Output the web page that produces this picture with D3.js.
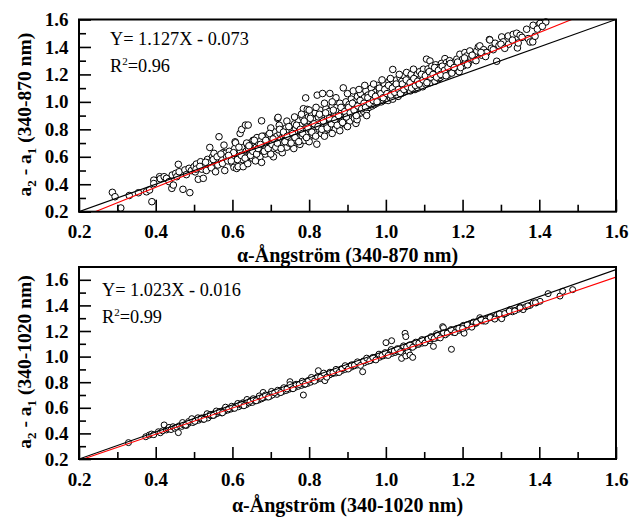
<!DOCTYPE html>
<html><head><meta charset="utf-8">
<script src="https://cdn.jsdelivr.net/npm/d3@7"></script>
<style>body{margin:0;background:#fff}svg{display:block}</style>
</head><body>
<svg id="c" width="631" height="517"></svg>
<script>
// ---------------- data ----------------
const xMajorTicks = [0.2,0.4,0.6,0.8,1.0,1.2,1.4,1.6];
const xMinorTicks = [0.3,0.5,0.7,0.9,1.1,1.3,1.5];
const yMajorTicks = [0.2,0.4,0.6,0.8,1.0,1.2,1.4,1.6];
const yMinorTicks = [0.3,0.5,0.7,0.9,1.1,1.3,1.5];

const topFit = {slope:1.127, intercept:-0.073};
const bottomFit = {slope:1.023, intercept:-0.016};
const topEquation = "Y= 1.127X - 0.073";
const topR2 = "0.96";
const bottomEquation = "Y= 1.023X - 0.016";
const bottomR2 = "0.99";
const refLineTop = [[0.2,0.2],[1.6,1.6]];
const refLineBottom = [[0.2,0.2],[1.6,1.68]];
const topYDomain = [0.2,1.6];
const bottomYDomain = [0.2,1.7];
const topXTitle = "α-Ångström (340-870 nm)";
const bottomXTitle = "α-Ångström (340-1020 nm)";
const topYRange = "(340-870 nm)";
const bottomYRange = "(340-1020 nm)";

const topPoints = [
[0.287,0.341],[0.294,0.309],[0.309,0.227],[0.331,0.318],[0.355,0.338],[0.376,0.345],[0.384,0.358],[0.39,0.273],[0.395,0.43],[0.395,0.405],
[0.41,0.455],[0.412,0.44],[0.422,0.455],[0.428,0.443],[0.435,0.419],[0.442,0.37],[0.446,0.394],[0.443,0.467],[0.452,0.479],[0.455,0.455],
[0.459,0.545],[0.461,0.491],[0.471,0.363],[0.489,0.339],[0.476,0.504],[0.48,0.47],[0.487,0.516],[0.493,0.5],[0.5,0.528],[0.503,0.49],
[0.506,0.547],[0.511,0.436],[0.517,0.564],[0.52,0.51],[0.524,0.443],[0.528,0.54],[0.532,0.5],[0.535,0.581],[0.538,0.555],[0.541,0.668],
[0.545,0.52],[0.548,0.6],[0.552,0.625],[0.556,0.491],[0.558,0.57],[0.562,0.54],[0.565,0.746],[0.568,0.6],[0.571,0.585],[0.574,0.552],
[0.576,0.63],[0.578,0.685],[0.58,0.5],[0.582,0.625],[0.585,0.6],[0.588,0.57],[0.592,0.64],[0.595,0.61],[0.598,0.59],[0.601,0.55],
[0.604,0.523],[0.606,0.66],[0.607,0.709],[0.608,0.702],[0.611,0.515],[0.612,0.62],[0.615,0.528],[0.618,0.6],[0.62,0.77],[0.621,0.64],
[0.624,0.799],[0.626,0.58],[0.628,0.528],[0.63,0.67],[0.632,0.62],[0.634,0.831],[0.636,0.64],[0.638,0.6],[0.639,0.685],[0.641,0.831],
[0.642,0.66],[0.644,0.62],[0.646,0.7],[0.648,0.63],[0.65,0.68],[0.652,0.59],[0.654,0.72],[0.656,0.65],[0.658,0.61],[0.66,0.69],
[0.662,0.67],[0.664,0.74],[0.666,0.63],[0.668,0.7],[0.67,0.66],[0.672,0.6],[0.674,0.72],[0.676,0.862],[0.676,0.559],[0.678,0.68],
[0.68,0.65],[0.682,0.75],[0.684,0.7],[0.686,0.62],[0.688,0.67],[0.69,0.73],[0.692,0.69],[0.694,0.76],[0.696,0.64],[0.698,0.71],
[0.7,0.68],[0.702,0.74],[0.704,0.7],[0.707,0.6],[0.708,0.66],[0.71,0.78],[0.712,0.72],[0.714,0.69],[0.716,0.75],[0.718,0.879],
[0.719,0.887],[0.72,0.65],[0.722,0.71],[0.724,0.77],[0.726,0.73],[0.728,0.68],[0.73,0.8],[0.732,0.75],[0.734,0.7],[0.736,0.76],
[0.738,0.72],[0.74,0.81],[0.742,0.67],[0.744,0.78],[0.746,0.74],[0.748,0.7],[0.75,0.82],[0.752,0.76],[0.754,0.73],[0.756,0.79],
[0.758,0.68],[0.76,0.75],[0.762,0.84],[0.764,0.8],[0.766,0.72],[0.768,0.77],[0.77,0.74],[0.772,0.86],[0.774,0.81],[0.776,0.69],
[0.778,0.78],[0.78,0.83],[0.782,0.75],[0.784,0.88],[0.785,0.95],[0.786,0.8],[0.788,0.72],[0.79,0.85],[0.791,1.029],[0.792,0.77],
[0.795,0.945],[0.795,0.82],[0.798,0.89],[0.8,0.74],[0.802,0.86],[0.804,0.79],[0.806,0.9],[0.808,0.83],[0.81,0.76],[0.812,0.87],
[0.814,0.81],[0.816,0.92],[0.818,0.78],[0.82,0.692],[0.821,1.049],[0.822,0.85],[0.824,0.89],[0.826,0.8],[0.828,0.94],[0.83,0.84],
[0.832,0.77],[0.834,0.88],[0.835,1.061],[0.836,0.82],[0.838,0.91],[0.84,0.86],[0.842,0.79],[0.844,0.95],[0.846,0.83],[0.848,0.89],
[0.85,0.8],[0.852,0.93],[0.854,1.061],[0.855,0.86],[0.857,0.82],[0.86,0.97],[0.862,0.88],[0.864,0.84],[0.866,0.92],[0.868,0.8],
[0.87,0.9],[0.872,0.96],[0.874,0.85],[0.876,0.93],[0.878,0.82],[0.88,0.99],[0.882,0.88],[0.884,0.92],[0.886,0.86],[0.889,1.102],
[0.89,0.95],[0.892,0.84],[0.894,0.9],[0.896,1.0],[0.898,0.87],[0.9,0.94],[0.902,0.91],[0.904,0.98],[0.906,0.86],[0.908,0.95],
[0.91,1.02],[0.912,0.9],[0.914,0.93],[0.916,0.97],[0.918,0.88],[0.92,1.0],[0.922,0.843],[0.924,0.94],[0.926,1.04],[0.928,0.91],
[0.93,0.98],[0.932,0.95],[0.934,1.06],[0.936,0.92],[0.938,1.01],[0.94,0.96],[0.942,0.93],[0.944,1.03],[0.946,0.98],[0.948,1.08],
[0.95,0.94],[0.952,1.0],[0.954,1.05],[0.956,0.96],[0.958,1.02],[0.96,0.99],[0.962,1.1],[0.964,0.97],[0.966,1.04],[0.968,1.0],
[0.97,0.98],[0.972,1.07],[0.974,1.02],[0.976,0.99],[0.978,1.12],[0.98,1.05],[0.982,1.0],[0.984,1.08],[0.986,1.03],[0.988,1.0],
[0.99,1.1],[0.992,1.05],[0.994,1.01],[0.996,1.13],[0.998,1.07],[1.0,1.02],[1.002,1.1],[1.004,1.04],[1.006,1.01],[1.008,1.15],
[1.01,1.08],[1.012,1.03],[1.014,1.12],[1.016,1.06],[1.018,1.236],[1.018,1.02],[1.02,1.14],[1.022,1.09],[1.024,1.117],[1.026,1.05],
[1.028,1.16],[1.03,1.11],[1.032,1.04],[1.034,1.13],[1.036,1.08],[1.037,1.177],[1.04,1.06],[1.042,1.15],[1.044,1.1],[1.046,1.07],
[1.048,1.19],[1.05,1.12],[1.052,1.08],[1.054,1.214],[1.056,1.14],[1.058,1.09],[1.06,1.17],[1.062,1.11],[1.064,1.08],[1.066,1.2],
[1.068,1.15],[1.07,1.1],[1.072,1.238],[1.074,1.13],[1.076,1.09],[1.078,1.18],[1.08,1.14],[1.082,1.2],[1.084,1.1],[1.086,1.16],
[1.088,1.22],[1.09,1.12],[1.092,1.18],[1.094,1.14],[1.096,1.11],[1.098,1.238],[1.1,1.2],[1.102,1.15],[1.104,1.13],[1.106,1.311],
[1.108,1.19],[1.11,1.24],[1.112,1.16],[1.115,1.298],[1.116,1.14],[1.118,1.21],[1.12,1.26],[1.122,1.17],[1.125,1.23],[1.128,1.15],
[1.13,1.27],[1.133,1.2],[1.136,1.25],[1.138,1.17],[1.141,1.177],[1.142,1.22],[1.145,1.28],[1.148,1.19],[1.15,1.24],[1.154,1.315],
[1.155,1.21],[1.158,1.286],[1.16,1.26],[1.163,1.2],[1.166,1.3],[1.17,1.23],[1.173,1.27],[1.176,1.226],[1.18,1.29],[1.183,1.24],
[1.185,1.311],[1.188,1.26],[1.191,1.22],[1.193,1.347],[1.196,1.28],[1.2,1.31],[1.202,1.262],[1.206,1.359],[1.208,1.3],[1.211,1.335],
[1.215,1.28],[1.219,1.371],[1.222,1.32],[1.228,1.311],[1.232,1.35],[1.237,1.371],[1.241,1.4],[1.245,1.408],[1.25,1.34],[1.255,1.38],
[1.259,1.356],[1.263,1.359],[1.27,1.454],[1.271,1.451],[1.275,1.39],[1.285,1.427],[1.289,1.296],[1.295,1.41],[1.302,1.473],
[1.306,1.437],[1.319,1.48],[1.32,1.42],[1.332,1.492],[1.341,1.5],[1.343,1.393],[1.345,1.429],[1.35,1.485],[1.367,1.529],[1.371,1.461],
[1.376,1.436],[1.383,1.437],[1.384,1.558],[1.389,1.478],[1.4,1.565],[1.402,1.572],[1.417,1.582],
[0.87,1.03],[0.9,1.06],[0.915,1.08],[0.93,1.09],[0.945,1.12],[0.968,1.13],[0.99,1.16],[1.012,1.17],[1.035,1.2],[0.86,1.0],
[0.84,0.99],[0.818,0.96],[0.8,0.94],[0.78,0.91],[0.762,0.89],[0.742,0.86],[0.722,0.83],[0.7,0.81],[0.88,0.79],[0.9,0.82],
[0.925,0.87],[0.95,0.9],[0.86,0.77],[0.84,0.75],[0.8,0.71],[0.76,0.66],[0.73,0.63],[0.7,0.62],[0.66,0.57],[0.64,0.55],
[0.603,0.63],[0.613,0.58],[0.617,0.67],[0.623,0.61],[0.633,0.59],[0.637,0.7],[0.643,0.68],[0.647,0.61],[0.653,0.64],[0.657,0.72],
[0.663,0.62],[0.667,0.66],[0.673,0.69],[0.677,0.75],[0.683,0.64],[0.687,0.72],[0.693,0.66],[0.697,0.77],[0.703,0.69],[0.706,0.73],
[0.713,0.67],[0.717,0.7],[0.723,0.8],[0.727,0.66],[0.733,0.78],[0.737,0.71],[0.743,0.75],[0.747,0.82],[0.753,0.7],[0.757,0.77],
[0.763,0.74],[0.767,0.83],[0.773,0.71],[0.777,0.8],[0.783,0.77],[0.787,0.86],[0.793,0.74],[0.797,0.81],[0.803,0.88],[0.807,0.78],
[0.813,0.84],[0.817,0.75],[0.823,0.82],[0.827,0.91],[0.833,0.8],[0.837,0.86],[0.843,0.92],[0.847,0.81],[0.853,0.88],[0.858,0.84],
[0.863,0.94],[0.867,0.87],[0.873,0.83],[0.877,0.9],[0.883,0.96],[0.887,0.85],[0.893,0.93],[0.897,0.89],[0.903,0.96],[0.907,0.92],
[0.913,0.99],[0.917,0.94],[0.923,0.9],[0.927,0.97],[0.933,1.01],[0.937,0.95],[0.943,0.99],[0.947,0.96],[0.953,1.03],[0.957,0.99],
[0.963,1.06],[0.967,1.01],[0.973,1.04],[0.977,1.0],[0.983,1.1],[0.987,1.06],[0.993,1.03],[0.997,1.09],[1.003,1.06],[1.007,1.12],
[1.013,1.05],[1.017,1.1],[1.023,1.07],[1.027,1.13],[1.033,1.09],[1.038,1.06],[1.043,1.13],[1.047,1.09],[1.053,1.16],[1.057,1.11],
[1.063,1.14],[1.067,1.1],[1.073,1.17],[1.077,1.12],[1.083,1.15],[1.087,1.13],[1.093,1.2],[1.097,1.16],[1.103,1.19],[1.107,1.14],
[1.113,1.22],[1.117,1.18],[1.123,1.2],[1.127,1.25],[1.132,1.18],[1.137,1.23],[1.143,1.2],[1.147,1.26],[1.153,1.23],[1.157,1.19],
[1.162,1.25],[1.168,1.28],[1.172,1.21],[1.178,1.25],[1.187,1.29],[1.195,1.25],[1.205,1.32],[1.213,1.27],[1.225,1.34],[1.235,1.3],
[1.248,1.36],[1.26,1.33],[1.28,1.38],[1.3,1.42],[1.31,1.39],[1.33,1.45],[1.355,1.47],[1.395,1.53],[1.408,1.55],
[0.505,0.51],[0.515,0.53],[0.53,0.56],[0.55,0.58],[0.56,0.6],[0.57,0.62],[0.59,0.61],[0.597,0.57]
];

const bottomPoints = [
[0.329,0.328],[0.374,0.374],[0.383,0.387],[0.389,0.395],[0.395,0.39],[0.407,0.413],[0.412,0.405],[0.418,0.42],[0.422,0.466],[0.428,0.427],
[0.432,0.435],[0.435,0.447],[0.44,0.43],[0.445,0.452],[0.45,0.44],[0.455,0.449],[0.459,0.406],[0.462,0.46],[0.468,0.455],[0.472,0.468],
[0.476,0.47],[0.48,0.462],[0.485,0.478],[0.49,0.49],[0.493,0.5],[0.497,0.485],[0.5,0.505],[0.504,0.497],[0.508,0.51],[0.512,0.503],
[0.516,0.515],[0.52,0.52],[0.524,0.51],[0.528,0.525],[0.532,0.53],[0.536,0.52],[0.54,0.545],[0.544,0.538],[0.548,0.55],[0.552,0.542],
[0.556,0.56],[0.56,0.555],[0.564,0.565],[0.568,0.572],[0.572,0.56],[0.576,0.58],[0.58,0.575],[0.584,0.588],[0.588,0.582],[0.592,0.595],
[0.596,0.59],[0.6,0.605],[0.604,0.598],[0.608,0.61],[0.612,0.62],[0.616,0.608],[0.62,0.625],[0.624,0.618],[0.628,0.64],[0.632,0.63],
[0.636,0.625],[0.64,0.645],[0.644,0.638],[0.648,0.65],[0.652,0.642],[0.656,0.66],[0.66,0.655],[0.664,0.668],[0.668,0.66],[0.672,0.675],
[0.676,0.67],[0.68,0.72],[0.682,0.68],[0.686,0.692],[0.69,0.685],[0.694,0.7],[0.698,0.69],[0.7,0.71],[0.704,0.7],[0.708,0.72],
[0.712,0.715],[0.716,0.705],[0.72,0.73],[0.724,0.72],[0.728,0.74],[0.732,0.728],[0.736,0.745],[0.74,0.735],[0.744,0.755],[0.748,0.745],
[0.75,0.804],[0.752,0.76],[0.756,0.75],[0.76,0.77],[0.764,0.76],[0.768,0.775],[0.772,0.768],[0.776,0.785],[0.78,0.775],[0.784,0.79],
[0.785,0.70],[0.788,0.782],[0.792,0.8],[0.796,0.79],[0.8,0.81],[0.804,0.8],[0.808,0.82],[0.812,0.815],[0.816,0.83],[0.82,0.82],
[0.824,0.89],[0.826,0.835],[0.83,0.828],[0.834,0.85],[0.838,0.84],[0.841,0.812],[0.842,0.86],[0.846,0.852],[0.85,0.865],[0.854,0.858],
[0.858,0.875],[0.862,0.868],[0.866,0.88],[0.87,0.872],[0.874,0.89],[0.878,0.885],[0.882,0.9],[0.886,0.892],[0.89,0.905],[0.894,0.9],
[0.898,0.915],[0.902,0.91],[0.906,0.925],[0.91,0.918],[0.914,0.935],[0.918,0.928],[0.922,0.94],[0.926,0.935],[0.93,0.95],[0.934,0.942],
[0.9395,0.882],[0.94,0.96],[0.944,0.952],[0.948,0.97],[0.952,0.962],[0.956,0.975],[0.96,0.97],[0.964,0.985],[0.968,0.978],[0.972,0.995],
[0.976,0.988],[0.98,1.0],[0.984,0.995],[0.988,1.01],[0.992,1.005],[0.996,1.02],[1.0,1.012],[1.0003,1.109],[1.004,1.025],[1.008,1.018],
[1.012,1.03],[1.015,1.124],[1.016,1.025],[1.02,1.04],[1.024,1.032],[1.028,1.045],[1.032,1.04],[1.036,1.05],[1.04,1.048],[1.041,0.986],
[1.044,1.06],[1.048,1.07],[1.05,1.182],[1.052,1.156],[1.052,1.005],[1.055,1.065],[1.058,1.039],[1.06,1.08],[1.063,1.012],[1.066,1.075],
[1.07,0.994],[1.07,1.09],[1.075,1.085],[1.08,1.1],[1.085,1.095],[1.09,1.11],[1.095,1.105],[1.1,1.12],[1.105,1.118],[1.11,1.13],
[1.115,1.125],[1.12,1.14],[1.124,1.08],[1.13,1.145],[1.132,1.179],[1.135,1.15],[1.14,1.16],[1.145,1.179],[1.148,1.234],[1.15,1.226],
[1.155,1.17],[1.163,1.192],[1.171,1.057],[1.175,1.19],[1.18,1.2],[1.185,1.218],[1.19,1.205],[1.195,1.22],[1.202,1.244],[1.204,1.183],
[1.21,1.23],[1.219,1.257],[1.225,1.24],[1.228,1.27],[1.235,1.26],[1.245,1.304],[1.25,1.28],[1.254,1.278],[1.26,1.29],[1.268,1.3],
[1.276,1.309],[1.282,1.3],[1.289,1.322],[1.295,1.31],[1.302,1.296],[1.308,1.33],[1.315,1.341],[1.324,1.367],[1.33,1.35],[1.337,1.361],
[1.345,1.37],[1.35,1.388],[1.358,1.367],[1.365,1.39],[1.376,1.4],[1.384,1.419],[1.392,1.42],[1.402,1.432],[1.423,1.492],[1.454,1.473],
[1.461,1.51],[1.487,1.523],
[0.47,0.485],[0.478,0.465],[0.486,0.493],[0.494,0.515],[0.502,0.494],[0.51,0.522],[0.518,0.519],[0.526,0.51],[0.534,0.554],[0.542,0.548],
[0.55,0.541],[0.558,0.575],[0.566,0.571],[0.574,0.561],[0.582,0.605],[0.59,0.592],[0.598,0.612],[0.606,0.596],[0.614,0.634],[0.622,0.63],
[0.63,0.616],[0.638,0.665],[0.646,0.651],[0.654,0.671],[0.662,0.655],[0.67,0.693],[0.678,0.68],[0.686,0.7],[0.694,0.684],[0.702,0.728],
[0.71,0.718],[0.718,0.737],[0.726,0.719],[0.734,0.757],[0.742,0.747],[0.75,0.781],[0.758,0.749],[0.766,0.784],[0.774,0.782],[0.782,0.808],
[0.79,0.786],[0.798,0.814],[0.806,0.837],[0.814,0.809],[0.822,0.843],[0.83,0.839],[0.838,0.871],[0.846,0.839],[0.854,0.878],[0.862,0.874],
[0.87,0.9],[0.878,0.876],[0.886,0.906],[0.894,0.929],[0.902,0.903],[0.91,0.935],[0.918,0.933],[0.926,0.959],[0.934,0.931],[0.942,0.966],
[0.95,0.988],[0.958,0.968],[0.966,0.994],[0.974,0.974],[0.982,1.019],[0.99,1.009],[0.998,1.031],[1.006,1.009],[1.014,1.055],[1.022,1.044],
[1.03,1.062],[1.038,1.038],[1.046,1.084],[1.054,1.074],[1.062,1.092],[1.07,1.073],[1.078,1.113],[1.086,1.105],[1.094,1.133],[1.102,1.107],
[1.11,1.138],[1.118,1.156],[1.126,1.142],[1.134,1.166],[1.142,1.146],[1.15,1.186],[1.16,1.183],[1.17,1.211],[1.18,1.187],[1.19,1.221],
[1.2,1.22],[1.212,1.25],[1.224,1.23],[1.236,1.266],[1.248,1.291],[1.26,1.277],[1.272,1.305],[1.284,1.293],[1.296,1.334],[1.31,1.336],
[1.322,1.356],[1.336,1.357],[1.35,1.381],[1.37,1.396],[1.39,1.42]
];

// ---------------- drawing ----------------
const svg = d3.select("#c");
const serif = "'Liberation Serif','Times New Roman',serif";
const left = 79, right = 616;

function panel(cfg){
  const x = d3.scaleLinear().domain([0.2,1.6]).range([left,right]);
  const y = d3.scaleLinear().domain(cfg.yDomain).range([cfg.bottom,cfg.top]);
  const g = svg.append("g");
  const clipId = "clip"+cfg.id;
  g.append("clipPath").attr("id",clipId).append("rect")
    .attr("x",left).attr("y",cfg.top).attr("width",right-left).attr("height",cfg.bottom-cfg.top);

  // points
  g.append("g").selectAll("circle").data(cfg.points).join("circle")
    .attr("cx",d=>x(d[0])).attr("cy",d=>y(d[1])).attr("r",cfg.r)
    .attr("fill","#fff").attr("stroke","#000").attr("stroke-width",1);

  // 1:1 reference line
  const line = d3.line().x(d=>x(d[0])).y(d=>y(d[1]));
  g.append("path").attr("d",line(cfg.ref)).attr("fill","none")
    .attr("stroke","#000").attr("stroke-width",1.1).attr("clip-path",`url(#${clipId})`);
  // regression line
  const fitPts = x.domain().map(v=>[v, cfg.fit.slope*v+cfg.fit.intercept]);
  g.append("path").attr("d",line(fitPts)).attr("fill","none")
    .attr("stroke","#ff0000").attr("stroke-width",1.1).attr("clip-path",`url(#${clipId})`);

  // axes
  const fmt = d3.format(".1f");
  const xa = g.append("g").attr("transform",`translate(0,${cfg.bottom})`)
    .call(d3.axisBottom(x).tickValues(xMajorTicks).tickSize(-12).tickPadding(13.3).tickFormat(fmt));
  const xm = g.append("g").attr("transform",`translate(0,${cfg.bottom})`)
    .call(d3.axisBottom(x).tickValues(xMinorTicks).tickSize(-7).tickFormat(""));
  const ya = g.append("g").attr("transform",`translate(${left},0)`)
    .call(d3.axisLeft(y).tickValues(yMajorTicks).tickSize(-12).tickPadding(10.5).tickFormat(fmt));
  const ym = g.append("g").attr("transform",`translate(${left},0)`)
    .call(d3.axisLeft(y).tickValues(yMinorTicks).tickSize(-7).tickFormat(""));
  [xa,xm,ya,ym].forEach(a=>{
    a.select(".domain").remove();
    a.selectAll(".tick line").attr("stroke","#000").attr("stroke-width",1.6);
    a.selectAll(".tick text").attr("fill","#000").style("font-family",serif)
      .style("font-size","19px").style("font-weight","bold");
  });

  // frame
  g.append("rect").attr("x",left).attr("y",cfg.top).attr("width",right-left)
    .attr("height",cfg.bottom-cfg.top).attr("fill","none").attr("stroke","#000").attr("stroke-width",2);

  // equation text
  g.append("text").attr("x",cfg.eqX).attr("y",cfg.eqY)
    .style("font-family",serif).style("font-size","18.3px").text(cfg.eq);
  const t2 = g.append("text").attr("x",cfg.eqX).attr("y",cfg.eqY+27)
    .style("font-family",serif).style("font-size","18.3px");
  t2.append("tspan").text("R");
  t2.append("tspan").attr("dy",-7).style("font-size","11px").text("2");
  t2.append("tspan").attr("dy",7).text("="+cfg.r2);

  // x title
  g.append("text").attr("x",(left+right)/2).attr("y",cfg.xTitleY).attr("text-anchor","middle")
    .style("font-family",serif).style("font-size","20px").style("font-weight","bold").text(cfg.xTitle);

  // y title
  const yt = g.append("text").attr("transform",`translate(31,${(cfg.top+cfg.bottom)/2 - 1}) rotate(-90)`)
    .attr("text-anchor","middle")
    .style("font-family",serif).style("font-size","19.5px").style("font-weight","bold");
  yt.append("tspan").text("a");
  yt.append("tspan").attr("dy",5).style("font-size","13px").text("2");
  yt.append("tspan").attr("dy",-5).text(" - a");
  yt.append("tspan").attr("dy",5).style("font-size","13px").text("1");
  yt.append("tspan").attr("dy",-5).text(" "+cfg.yRange);
}

panel({id:"t", top:19.5, bottom:211.7, yDomain:topYDomain, points:topPoints, r:3.3,
  ref:refLineTop, fit:topFit, eq:topEquation, r2:topR2, eqX:110, eqY:45,
  xTitle:topXTitle, xTitleY:262, yRange:topYRange});
panel({id:"b", top:267, bottom:459, yDomain:bottomYDomain, points:bottomPoints, r:3.0,
  ref:refLineBottom, fit:bottomFit, eq:bottomEquation, r2:bottomR2, eqX:102, eqY:296,
  xTitle:bottomXTitle, xTitleY:512, yRange:bottomYRange});
</script>
</body></html>
